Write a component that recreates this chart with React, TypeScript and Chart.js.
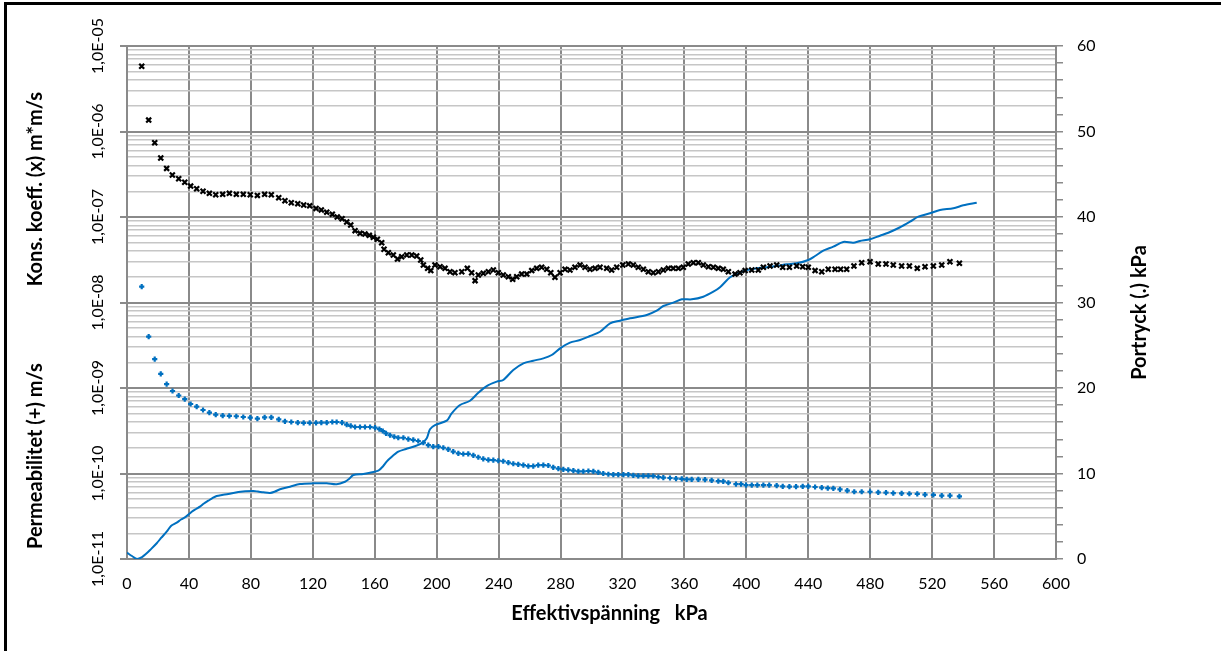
import { useEffect, useRef } from "react";
import { Chart, registerables } from "chart.js";

Chart.register(...registerables);

const FONT = "Lato, 'Open Sans', sans-serif";
const MAJOR = "#8a8a8a";
const MINOR = "#c6c6c6";
const BLUE = "#0070C0";

// x-axis: Effektivspänning (kPa)
const xMin = 0;
const xMax = 600;
const xStep = 40;

// left log axis decades (exponents) and minor multipliers
const decadeExps = [-11, -10, -9, -8, -7, -6, -5];
const minorMultipliers = [2, 3, 4, 5, 6, 7, 8, 9];

// right axis: Portryck (kPa)
const rightMin = 0;
const rightMax = 60;
const rightStep = 2;
const rightLabelEvery = 10;

const xTitle = "Effektivspänning   kPa";
const leftTitleLower = "Permeabilitet (+) m/s";
const leftTitleUpper = "Kons. koeff. (x) m*m/s";
const rightTitle = "Portryck (.) kPa";

// Kons. koeff. (x) m*m/s  — [kPa, value]
const konsKoeff: [number, number][] = [
  [9.5, 5.8e-6], [14.0, 1.36e-6], [17.9, 7.4e-7], [21.8, 4.9e-7], [25.6, 3.7e-7], [29.3, 3.1e-7],
  [33.4, 2.8e-7], [37.3, 2.55e-7], [41.1, 2.3e-7], [45.0, 2.14e-7], [49.1, 2.0e-7], [53.2, 1.89e-7],
  [57.3, 1.82e-7], [61.8, 1.84e-7], [66.1, 1.89e-7], [70.6, 1.84e-7], [75.1, 1.84e-7], [79.6, 1.82e-7],
  [84.2, 1.79e-7], [88.9, 1.84e-7], [93.2, 1.82e-7], [98.0, 1.68e-7], [102.0, 1.55e-7], [106.1, 1.47e-7],
  [110.3, 1.43e-7], [114.1, 1.38e-7], [118.0, 1.35e-7], [122.1, 1.26e-7], [125.5, 1.21e-7], [129.0, 1.14e-7],
  [132.6, 1.08e-7], [135.8, 1.0e-7], [138.9, 9.55e-8], [141.9, 8.75e-8], [144.5, 8.06e-8], [147.3, 6.92e-8],
  [150.5, 6.44e-8], [153.7, 6.32e-8], [156.5, 6.1e-8], [159.1, 5.79e-8], [161.7, 5.49e-8], [164.5, 5.0e-8],
  [166.0, 4.19e-8], [168.8, 3.82e-8], [172.0, 3.6e-8], [174.7, 3.23e-8], [177.4, 3.43e-8], [180.7, 3.6e-8],
  [183.9, 3.6e-8], [187.1, 3.5e-8], [189.7, 3.14e-8], [191.4, 2.75e-8], [194.2, 2.51e-8], [196.2, 2.36e-8],
  [198.9, 2.75e-8], [202.2, 2.62e-8], [205.4, 2.51e-8], [208.6, 2.29e-8], [211.8, 2.23e-8], [216.2, 2.29e-8],
  [219.8, 2.51e-8], [222.6, 2.23e-8], [224.8, 1.8e-8], [226.9, 2.1e-8], [230.1, 2.2e-8], [233.4, 2.29e-8],
  [236.6, 2.4e-8], [239.8, 2.23e-8], [243.0, 2.1e-8], [246.3, 2.0e-8], [249.1, 1.87e-8], [251.7, 2.0e-8],
  [254.9, 2.15e-8], [258.2, 2.15e-8], [261.4, 2.36e-8], [264.6, 2.51e-8], [267.8, 2.58e-8], [271.1, 2.45e-8],
  [273.7, 2.23e-8], [276.4, 1.97e-8], [279.7, 2.23e-8], [282.9, 2.45e-8], [286.1, 2.4e-8], [289.3, 2.58e-8],
  [292.6, 2.75e-8], [295.8, 2.58e-8], [299.0, 2.45e-8], [302.3, 2.51e-8], [305.5, 2.58e-8], [309.8, 2.51e-8],
  [313.0, 2.4e-8], [316.3, 2.58e-8], [320.2, 2.75e-8], [323.8, 2.82e-8], [327.0, 2.75e-8], [330.2, 2.58e-8],
  [333.5, 2.45e-8], [336.7, 2.29e-8], [339.9, 2.23e-8], [343.2, 2.29e-8], [346.4, 2.4e-8], [349.6, 2.51e-8],
  [352.8, 2.51e-8], [356.1, 2.51e-8], [359.3, 2.58e-8], [362.5, 2.82e-8], [365.8, 2.92e-8], [369.0, 2.92e-8],
  [372.2, 2.75e-8], [375.5, 2.62e-8], [378.7, 2.58e-8], [381.9, 2.51e-8], [385.1, 2.45e-8], [388.4, 2.29e-8],
  [392.7, 2.15e-8], [395.9, 2.23e-8], [399.2, 2.36e-8], [403.5, 2.4e-8], [407.7, 2.4e-8], [411.0, 2.58e-8],
  [415.3, 2.67e-8], [419.6, 2.75e-8], [423.5, 2.58e-8], [427.8, 2.58e-8], [432.5, 2.67e-8], [436.4, 2.62e-8],
  [440.0, 2.58e-8], [444.4, 2.36e-8], [448.7, 2.29e-8], [452.9, 2.45e-8], [457.3, 2.45e-8], [460.9, 2.45e-8],
  [464.8, 2.45e-8], [469.5, 2.67e-8], [474.5, 2.92e-8], [479.9, 3.0e-8], [485.2, 2.82e-8], [490.2, 2.82e-8],
  [494.9, 2.75e-8], [500.3, 2.67e-8], [505.3, 2.67e-8], [510.4, 2.51e-8], [515.4, 2.62e-8], [520.8, 2.67e-8],
  [526.2, 2.75e-8], [531.5, 3.0e-8], [537.6, 2.88e-8],
];

// Permeabilitet (+) m/s — [kPa, value]
const permeabilitet: [number, number][] = [
  [9.5, 1.53e-8], [14.0, 3.98e-9], [17.9, 2.18e-9], [21.8, 1.46e-9], [25.6, 1.11e-9], [29.4, 9.23e-10],
  [33.4, 8.17e-10], [37.3, 7.43e-10], [41.1, 6.5e-10], [45.0, 6.04e-10], [49.1, 5.53e-10], [53.2, 5.14e-10],
  [57.3, 4.87e-10], [61.8, 4.74e-10], [66.1, 4.71e-10], [70.6, 4.67e-10], [75.1, 4.58e-10], [79.6, 4.5e-10],
  [84.2, 4.38e-10], [88.9, 4.54e-10], [93.2, 4.54e-10], [98.0, 4.3e-10], [102.0, 4.08e-10], [106.1, 4.0e-10],
  [110.3, 3.93e-10], [114.1, 3.9e-10], [118.0, 3.9e-10], [122.1, 3.9e-10], [125.5, 3.93e-10], [129.0, 3.93e-10],
  [132.6, 4.0e-10], [135.4, 4.0e-10], [138.9, 3.93e-10], [141.9, 3.72e-10], [144.5, 3.6e-10], [147.3, 3.5e-10],
  [150.5, 3.5e-10], [153.7, 3.5e-10], [157.0, 3.5e-10], [160.2, 3.44e-10], [163.0, 3.31e-10], [165.2, 3.14e-10],
  [167.3, 2.95e-10], [169.9, 2.8e-10], [172.6, 2.69e-10], [175.2, 2.62e-10], [178.5, 2.62e-10], [181.7, 2.53e-10],
  [184.9, 2.47e-10], [188.1, 2.4e-10], [191.4, 2.29e-10], [194.6, 2.15e-10], [197.8, 2.06e-10], [201.1, 2.06e-10],
  [204.3, 2.0e-10], [207.5, 1.92e-10], [210.7, 1.8e-10], [214.0, 1.72e-10], [217.2, 1.69e-10], [220.4, 1.7e-10],
  [223.7, 1.63e-10], [226.9, 1.55e-10], [230.1, 1.48e-10], [233.4, 1.44e-10], [236.6, 1.43e-10], [239.8, 1.41e-10],
  [243.0, 1.39e-10], [246.3, 1.34e-10], [249.5, 1.3e-10], [252.7, 1.28e-10], [256.0, 1.25e-10], [259.2, 1.22e-10],
  [262.4, 1.22e-10], [265.6, 1.25e-10], [268.9, 1.25e-10], [272.1, 1.24e-10], [275.3, 1.18e-10], [278.6, 1.14e-10],
  [281.8, 1.12e-10], [285.0, 1.1e-10], [288.3, 1.08e-10], [291.5, 1.06e-10], [294.7, 1.06e-10], [298.0, 1.07e-10],
  [301.2, 1.06e-10], [304.4, 1.03e-10], [307.6, 1.0e-10], [310.9, 9.8e-11], [314.1, 9.7e-11], [317.3, 9.7e-11],
  [320.6, 9.7e-11], [323.8, 9.7e-11], [327.0, 9.5e-11], [330.2, 9.4e-11], [333.5, 9.4e-11], [336.7, 9.4e-11],
  [339.9, 9.35e-11], [343.2, 9.1e-11], [346.4, 8.93e-11], [350.7, 8.86e-11], [354.6, 8.69e-11], [358.3, 8.63e-11],
  [361.5, 8.55e-11], [364.7, 8.55e-11], [369.0, 8.55e-11], [373.3, 8.46e-11], [377.6, 8.32e-11], [381.9, 8.16e-11],
  [385.1, 8.1e-11], [388.4, 7.8e-11], [393.3, 7.53e-11], [396.6, 7.5e-11], [399.8, 7.33e-11], [403.5, 7.33e-11],
  [407.1, 7.33e-11], [411.0, 7.33e-11], [414.8, 7.33e-11], [419.6, 7.2e-11], [423.5, 7.08e-11], [427.8, 7.01e-11],
  [432.1, 7.01e-11], [436.4, 7.08e-11], [440.0, 7.08e-11], [444.4, 6.95e-11], [448.7, 6.82e-11], [452.6, 6.76e-11],
  [456.2, 6.71e-11], [460.5, 6.53e-11], [465.2, 6.29e-11], [469.7, 6.12e-11], [474.5, 6.12e-11], [479.9, 6.12e-11],
  [485.2, 6.03e-11], [490.2, 5.96e-11], [494.9, 5.91e-11], [500.3, 5.87e-11], [505.3, 5.8e-11], [510.4, 5.77e-11],
  [515.4, 5.65e-11], [520.8, 5.61e-11], [526.2, 5.5e-11], [531.5, 5.5e-11], [537.6, 5.41e-11],
];

// Portryck (.) kPa — [kPa, kPa]
const portryck: [number, number][] = [
  [0, 0.74], [3.2, 0.35], [6.5, 0.0], [9.7, 0.23], [12.7, 0.67], [14.9, 1.05], [19.2, 1.84], [22.0, 2.46],
  [25.6, 3.19], [28.4, 3.86], [32.1, 4.25], [34.9, 4.62], [38.1, 4.95], [41.8, 5.53], [44.6, 5.85], [47.1, 6.12],
  [49.7, 6.49], [52.5, 6.82], [55.2, 7.13], [57.9, 7.37], [61.4, 7.49], [65.4, 7.6], [71.9, 7.84], [81.6, 7.95],
  [84.6, 7.89], [88.0, 7.8], [92.4, 7.72], [95.6, 7.89], [98.8, 8.15], [105.3, 8.46], [111.7, 8.77], [120.3, 8.85],
  [129.0, 8.85], [135.4, 8.74], [140.8, 9.04], [143.4, 9.36], [146.2, 9.82], [152.6, 9.94], [156.9, 10.09],
  [162.3, 10.33], [165.5, 10.88], [167.7, 11.38], [169.9, 11.78], [175.2, 12.55], [180.2, 12.87], [184.9, 13.13],
  [190.3, 13.53], [193.6, 14.12], [195.7, 15.17], [198.9, 15.67], [206.5, 16.18], [209.7, 17.04], [215.1, 18.01],
  [221.5, 18.51], [226.9, 19.45], [232.3, 20.23], [238.8, 20.74], [243.0, 20.94], [249.5, 22.11], [256.0, 22.89],
  [262.4, 23.19], [268.9, 23.47], [274.3, 23.86], [279.7, 24.64], [286.1, 25.3], [292.6, 25.61], [299.0, 26.08],
  [305.5, 26.58], [312.0, 27.57], [318.4, 27.87], [324.9, 28.15], [335.7, 28.54], [342.1, 29.04], [346.4, 29.59],
  [352.8, 29.98], [358.3, 30.37], [364.7, 30.37], [372.2, 30.68], [378.7, 31.26], [383.0, 31.78], [389.5, 32.95],
  [394.9, 33.42], [400.2, 33.8], [406.7, 34.0], [413.2, 34.12], [419.6, 34.27], [426.1, 34.47], [432.5, 34.58],
  [440.0, 34.97], [444.4, 35.44], [449.7, 36.06], [456.2, 36.53], [462.6, 37.08], [469.1, 36.99], [473.4, 37.19],
  [479.9, 37.39], [486.3, 37.81], [491.7, 38.16], [499.3, 38.8], [505.7, 39.45], [511.1, 40.04], [518.6, 40.43],
  [525.1, 40.82], [533.7, 41.02], [540.1, 41.37], [548.8, 41.67],
];

const isDecade = (v: number) => {
  if (!(v > 0)) return false;
  const l = Math.log10(v);
  return Math.abs(l - Math.round(l)) < 1e-6;
};

const fmtSci = (v: number) => {
  const e = Math.round(Math.log10(v));
  const s = e < 0 ? "-" : "+";
  return `1,0E${s}${String(Math.abs(e)).padStart(2, "0")}`;
};

const logTickValues = (() => {
  const out: number[] = [];
  decadeExps.forEach((e, i) => {
    out.push(Number(`1e${e}`));
    if (i < decadeExps.length - 1) {
      minorMultipliers.forEach((m) => out.push(Number(`${m}e${e}`)));
    }
  });
  return out;
})();

const toXY = (arr: [number, number][]) => arr.map(([x, y]) => ({ x, y }));

const TITLE_FONT = `bold 20px ${FONT}`;

const titlesPlugin = {
  id: "customTitles",
  afterDraw(chart: any) {
    const { ctx, chartArea } = chart;
    const { left, right, top, bottom } = chartArea;
    ctx.save();
    ctx.fillStyle = "#000";
    ctx.font = TITLE_FONT;
    ctx.textBaseline = "middle";

    ctx.textAlign = "center";
    ctx.fillText(xTitle, (left + right) / 2 + 18, bottom + 55);

    // left title: two parts, reading bottom-to-top
    ctx.save();
    ctx.translate(left - 91, 0);
    ctx.rotate(-Math.PI / 2);
    ctx.textAlign = "left";
    ctx.fillText(leftTitleLower, -(bottom - 10), 0);
    ctx.textAlign = "right";
    ctx.fillText(leftTitleUpper, -(top + 46), 0);
    ctx.restore();

    ctx.save();
    ctx.translate(right + 84, (top + bottom) / 2 + 10);
    ctx.rotate(-Math.PI / 2);
    ctx.textAlign = "center";
    ctx.fillText(rightTitle, 0, 0);
    ctx.restore();
    ctx.restore();
  },
};

export default function App() {
  const ref = useRef<HTMLCanvasElement>(null);

  useEffect(() => {
    if (!ref.current) return;
    const tickFont = { family: FONT, size: 16 };
    const chart = new Chart(ref.current, {
      type: "scatter",
      data: {
        datasets: [
          {
            label: "Kons. koeff.",
            data: toXY(konsKoeff),
            yAxisID: "y",
            pointStyle: "crossRot",
            pointRadius: 3.5,
            pointBorderWidth: 2.2,
            borderColor: "#000",
            backgroundColor: "#000",
            showLine: false,
          },
          {
            label: "Portryck",
            data: toXY(portryck),
            yAxisID: "y2",
            showLine: true,
            pointRadius: 0,
            borderColor: BLUE,
            backgroundColor: BLUE,
            borderWidth: 2,
            tension: 0.3,
          },
          {
            label: "Permeabilitet",
            data: toXY(permeabilitet),
            yAxisID: "y",
            pointStyle: "cross",
            pointRadius: 2.6,
            pointBorderWidth: 2.2,
            borderColor: BLUE,
            backgroundColor: BLUE,
            showLine: false,
          },
        ],
      },
      options: {
        animation: false,
        responsive: false,
        maintainAspectRatio: false,
        layout: { padding: { left: 0, right: 0, top: 46, bottom: 0 } },
        plugins: { legend: { display: false }, tooltip: { enabled: false }, title: { display: false } },
        scales: {
          x: {
            type: "linear",
            position: "bottom",
            min: xMin,
            max: xMax,
            ticks: {
              stepSize: xStep,
              autoSkip: false,
              maxRotation: 0,
              padding: 15,
              color: "#000",
              font: tickFont,
            },
            grid: { color: MAJOR, lineWidth: 2, drawTicks: false },
            border: { color: MAJOR, width: 2 },
            afterFit: (s: any) => {
              s.height = 92;
            },
          },
          y: {
            type: "logarithmic",
            position: "left",
            min: Number(`1e${decadeExps[0]}`),
            max: Number(`1e${decadeExps[decadeExps.length - 1]}`),
            afterBuildTicks: (s: any) => {
              s.ticks = logTickValues.map((value) => ({ value, major: isDecade(value) }));
            },
            ticks: {
              autoSkip: false,
              minRotation: 90,
              maxRotation: 90,
              crossAlign: "center",
              padding: -6,
              color: "#000",
              font: tickFont,
              callback: (v: any) => (isDecade(Number(v)) ? fmtSci(Number(v)) : ""),
            },
            grid: {
              color: (c: any) => (isDecade(c.tick?.value) ? MAJOR : MINOR),
              lineWidth: (c: any) => (isDecade(c.tick?.value) ? 2 : 1.5),
              tickLength: 7,
              tickColor: (c: any) => (isDecade(c.tick?.value) ? MAJOR : "rgba(0,0,0,0)"),
            },
            border: { color: MAJOR, width: 2 },
            afterFit: (s: any) => {
              s.width = 127;
            },
          },
          y2: {
            type: "linear",
            position: "right",
            min: rightMin,
            max: rightMax,
            ticks: {
              stepSize: rightStep,
              autoSkip: false,
              padding: 14,
              color: "#000",
              font: tickFont,
              callback: (v: any) => (Number(v) % rightLabelEvery === 0 ? String(v) : ""),
            },
            grid: { drawOnChartArea: false, tickLength: 7, color: MAJOR, lineWidth: 1.5 },
            border: { color: MAJOR, width: 2 },
            afterFit: (s: any) => {
              s.width = 165;
            },
          },
        },
      },
      plugins: [titlesPlugin],
    } as any);
    return () => chart.destroy();
  }, []);

  return (
    <div
      style={{
        position: "fixed",
        left: 0,
        top: 0,
        width: 1221,
        height: 651,
        background: "#fff",
        overflow: "hidden",
      }}
    >
      <div
        style={{
          position: "absolute",
          left: 4,
          top: 2,
          right: 0,
          bottom: 0,
          borderLeft: "3px solid #000",
          borderTop: "3px solid #000",
        }}
      />
      <canvas
        ref={ref}
        width={1221}
        height={651}
        style={{ position: "absolute", left: 0, top: 0, width: 1221, height: 651 }}
      />
    </div>
  );
}
